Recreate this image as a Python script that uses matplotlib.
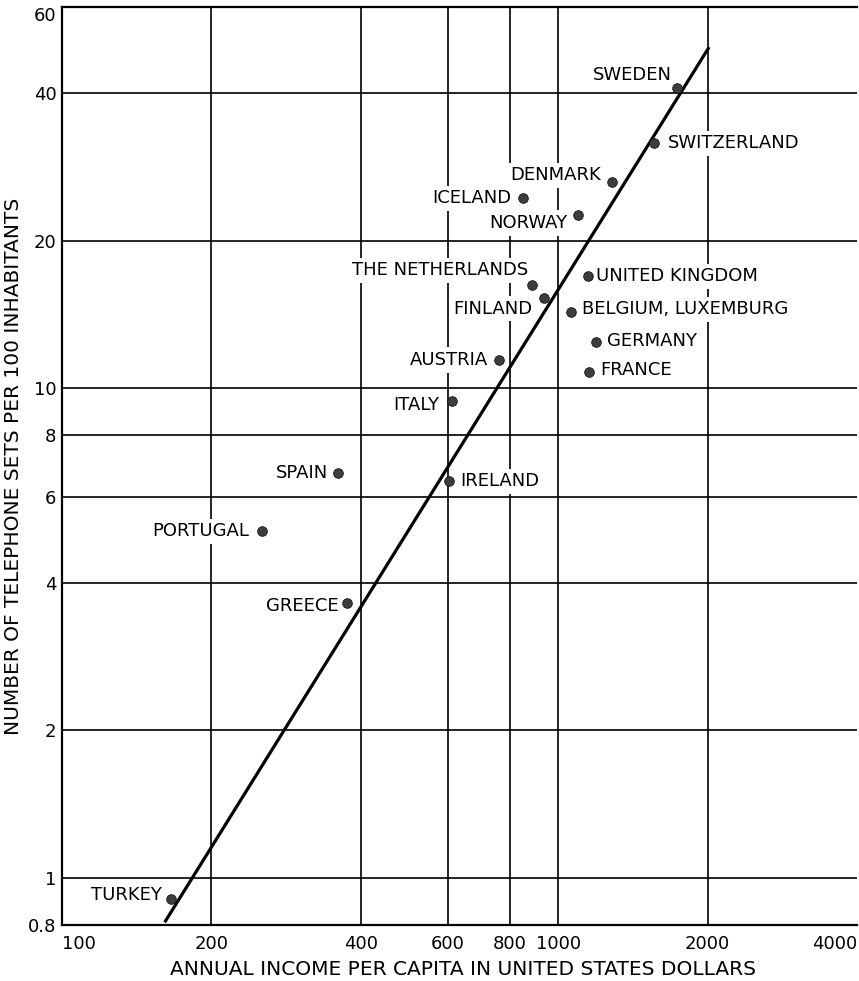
#!/usr/bin/env python3
"""Telephone sets per 100 inhabitants vs. income per capita (log-log)."""

import matplotlib

matplotlib.use("Agg")
import matplotlib.pyplot as plt
from matplotlib.ticker import FixedLocator, NullLocator

# --- data ------------------------------------------------------------------
countries = [
    "SWEDEN", "SWITZERLAND", "DENMARK", "ICELAND", "NORWAY",
    "THE NETHERLANDS", "FINLAND", "UNITED KINGDOM", "BELGIUM, LUXEMBURG",
    "GERMANY", "FRANCE", "AUSTRIA", "ITALY", "IRELAND", "SPAIN",
    "PORTUGAL", "GREECE", "TURKEY",
]
income = [1736, 1560, 1284, 849, 1096, 886, 936, 1148, 1061,
          1192, 1153, 760, 611, 603, 360, 253, 375, 166]
phones = [41.0, 31.6, 26.3, 24.4, 22.6, 16.2, 15.3, 16.9, 14.3,
          12.4, 10.8, 11.4, 9.4, 6.45, 6.7, 5.1, 3.64, 0.904]

trend_income = [161, 2014]
trend_phones = [0.81, 49.7]

x_ticks = [100, 200, 400, 600, 800, 1000, 2000, 4000]
y_ticks = [0.8, 1, 2, 4, 6, 8, 10, 20, 40, 60]
x_grid = [200, 400, 600, 800, 1000, 2000]
y_grid = [1, 2, 4, 6, 8, 10, 20, 40]

# label placement: (horizontal alignment, offset in points)
label_style = {
    "SWEDEN": ("right", (-4, 9)),
    "SWITZERLAND": ("left", (10, 0)),
    "DENMARK": ("right", (-8, 5)),
    "ICELAND": ("right", (-8, 0)),
    "NORWAY": ("right", (-8, -6)),
    "THE NETHERLANDS": ("right", (-3, 11)),
    "FINLAND": ("right", (-8, -8)),
    "UNITED KINGDOM": ("left", (6, 0)),
    "BELGIUM, LUXEMBURG": ("left", (8, 2)),
    "GERMANY": ("left", (8, 1)),
    "FRANCE": ("left", (8, 1)),
    "AUSTRIA": ("right", (-8, 0)),
    "ITALY": ("right", (-9, -3)),
    "IRELAND": ("left", (8, 0)),
    "SPAIN": ("right", (-7, 0)),
    "PORTUGAL": ("right", (-9, 0)),
    "GREECE": ("right", (-6, -2)),
    "TURKEY": ("right", (-7, 3)),
}

plt.rcParams["font.family"] = ["DejaVu Sans"]

fig = plt.figure(figsize=(8.59, 9.81), dpi=100)
ax = fig.add_axes([62 / 859, 56 / 981, 795 / 859, 918 / 981])
ax.set_xscale("log")
ax.set_yscale("log")
ax.set_xlim(100, 4000)
ax.set_ylim(0.8, 60)

for gx in x_grid:
    ax.axvline(gx, color="black", lw=1.2, zorder=1)
for gy in y_grid:
    ax.axhline(gy, color="black", lw=1.2, zorder=1)

ax.plot(trend_income, trend_phones, color="black", lw=2.3,
        solid_capstyle="butt", zorder=4)
ax.scatter(income, phones, s=48, color="#3d3d3d", edgecolors="#151515",
           linewidths=0.6, zorder=5)

for name, x, y in zip(countries, income, phones):
    ha, offset = label_style[name]
    ax.annotate(
        name, (x, y), xytext=offset, textcoords="offset points",
        ha=ha, va="center", fontsize=13, zorder=3,
        bbox=dict(boxstyle="square,pad=0.2", fc="white", ec="none"),
    )

ax.xaxis.set_major_locator(FixedLocator(x_ticks))
ax.xaxis.set_minor_locator(NullLocator())
ax.yaxis.set_major_locator(FixedLocator(y_ticks))
ax.yaxis.set_minor_locator(NullLocator())
ax.set_xticklabels([str(v) for v in x_ticks])
ax.set_yticklabels(["0.8" if v < 1 else str(int(v)) for v in y_ticks])
ax.tick_params(axis="both", length=0, labelsize=13)
ax.tick_params(axis="x", pad=7)
ax.tick_params(axis="y", pad=4)
xlabels = ax.get_xticklabels()
xlabels[0].set_ha("left")
xlabels[-1].set_ha("right")
ax.get_yticklabels()[-1].set_va("top")

for side in ("left", "bottom", "top"):
    ax.spines[side].set_linewidth(1.6)
ax.spines["right"].set_visible(False)

ax.set_xlabel("ANNUAL INCOME PER CAPITA IN UNITED STATES DOLLARS", fontsize=14.5)
ax.set_ylabel("NUMBER OF TELEPHONE SETS PER 100 INHABITANTS", fontsize=14.5)
ax.xaxis.set_label_coords(0.504, -0.038)
ax.yaxis.set_label_coords(-0.049, 0.5)

fig.savefig("out.png", dpi=100)
